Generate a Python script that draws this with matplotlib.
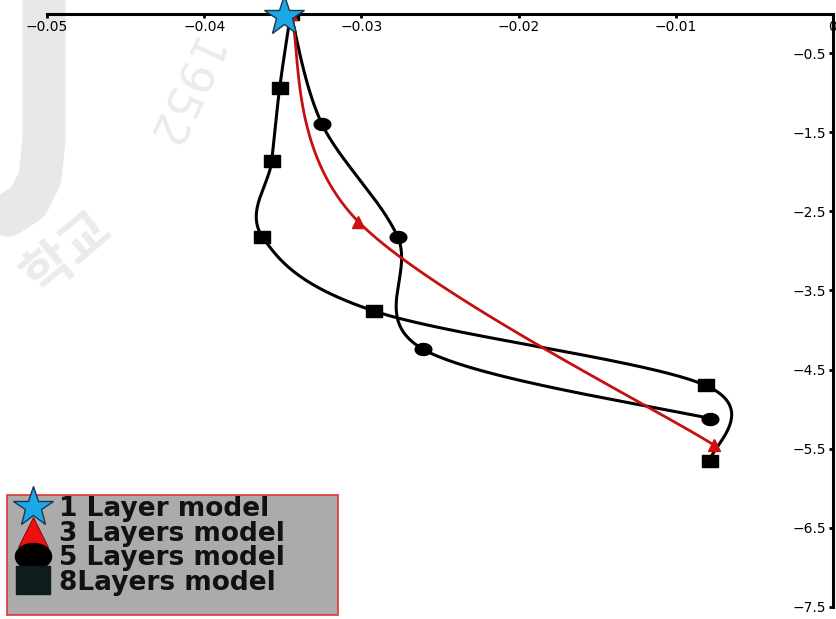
import numpy as np
import matplotlib
matplotlib.use('Agg')
import matplotlib.pyplot as plt
from matplotlib.lines import Line2D
from matplotlib.patches import Rectangle
from matplotlib.path import Path

# ---- data (x = displacement, y = depth) ----
x_1layer = [-0.0349]
y_1layer = [-0.03]

x_3layer = [-0.0345, -0.0302, -0.0076]
y_3layer = [0.0, -2.63, -5.45]

x_5layer = [-0.0345, -0.0325, -0.0277, -0.0261, -0.0078]
y_5layer = [0.0, -1.40, -2.82, -4.24, -5.12]

x_8layer = [-0.0345, -0.0352, -0.0357, -0.0363, -0.0292, -0.0081, -0.0078]
y_8layer = [0.0, -0.94, -1.86, -2.82, -3.76, -4.70, -5.65]

labels = ['1 Layer model', '3 Layers model', '5 Layers model', '8Layers model']
xticks = [-0.05, -0.04, -0.03, -0.02, -0.01, 0.0]
xtick_labels = ['\u22120.05', '\u22120.04', '\u22120.03', '\u22120.02', '\u22120.01', '0']
yticks = [-0.5, -1.5, -2.5, -3.5, -4.5, -5.5, -6.5, -7.5]
ytick_labels = ['\u2212' + str(abs(v)) for v in yticks]


def smooth(xs, ys, n=50):
    # spreadsheet-style smoothed line: cubic bezier through the points,
    # handles at +-1/6 of the neighbour chord
    P = np.column_stack([xs, ys]).astype(float)
    m = len(P)
    T = np.array([P[min(i + 1, m - 1)] - P[max(i - 1, 0)] for i in range(m)])
    s = np.linspace(0, 1, n)[:, None]
    pts = []
    for i in range(m - 1):
        p0, p3 = P[i], P[i + 1]
        p1 = p0 + T[i] / 6
        p2 = p3 - T[i + 1] / 6
        seg = (1 - s) ** 3 * p0 + 3 * (1 - s) ** 2 * s * p1 + 3 * (1 - s) * s ** 2 * p2 + s ** 3 * p3
        pts.append(seg if i == 0 else seg[1:])
    pts = np.vstack(pts)
    return pts[:, 0], pts[:, 1]


# horizontal ellipse / wide square markers (the original looks stretched)
t = np.linspace(0, 2 * np.pi, 60)
ellipse = Path(np.column_stack([np.cos(t), 0.72 * np.sin(t)]), closed=True)
wide_sq = Path([(-1, -0.82), (1, -0.82), (1, 0.82), (-1, 0.82), (-1, -0.82)], closed=True)

fig = plt.figure(figsize=(8.37, 6.19), dpi=100)
ax = fig.add_axes([47 / 837, 1 - 607 / 619, 786 / 837, 593.5 / 619])
ax.set_facecolor('none')

# faint watermark from the scanned page
wm = dict(transform=fig.transFigure, color='#ebebeb', zorder=-5, ha='center', va='center')
fig.add_artist(Line2D([44 / 837, 44 / 837, 40 / 837, 28 / 837, 8 / 837],
                      [1.0, 1 - 140 / 619, 1 - 178 / 619, 1 - 202 / 619, 1 - 215 / 619],
                      transform=fig.transFigure, color='#e8e8e8', lw=31,
                      solid_capstyle='round', solid_joinstyle='round', zorder=-6))
fig.text(178 / 837, 1 - 92 / 619, '1952', fontsize=33, rotation=-115,
         family='DejaVu Sans', **wm)
fig.text(68 / 837, 1 - 253 / 619, '학교', fontsize=38, rotation=40,
         family=['Noto Sans CJK KR', 'DejaVu Sans'], weight='bold', **wm)

xs, ys = smooth(x_8layer, y_8layer)
ax.plot(xs, ys, color='black', lw=2.2, zorder=3)
ax.plot(x_8layer, y_8layer, linestyle='none', marker=wide_sq, markersize=11,
        color='black', zorder=4)

xs, ys = smooth(x_5layer, y_5layer)
ax.plot(xs, ys, color='black', lw=2.2, zorder=3)
ax.plot(x_5layer, y_5layer, linestyle='none', marker=ellipse, markersize=12,
        color='black', zorder=4)

xs, ys = smooth(x_3layer, y_3layer)
ax.plot(xs, ys, color='#c41010', lw=2.0, zorder=3)
ax.plot(x_3layer, y_3layer, linestyle='none', marker='^', markersize=8,
        color='#d01010', zorder=4)

ax.plot(x_1layer, y_1layer, linestyle='none', marker='*', markersize=30,
        markerfacecolor='#1aa9e6', markeredgecolor='#1c3550', markeredgewidth=1,
        zorder=6, clip_on=False)

ax.set_xlim(-0.05, 0)
ax.set_ylim(-7.5, 0)

# axis lines on top and right, labels inside
ax.spines['right'].set_visible(False)
ax.spines['top'].set_visible(False)
ax.spines['bottom'].set_position(('axes', 1.0))
ax.spines['left'].set_position(('axes', 1.0))
for s in ('bottom', 'left'):
    ax.spines[s].set_linewidth(2.2)
    ax.spines[s].set_zorder(2)

ax.set_xticks(xticks)
ax.set_xticklabels(xtick_labels)
ax.set_yticks(yticks)
ax.set_yticklabels(ytick_labels)
ax.tick_params(axis='both', direction='out', length=3, width=2, labelsize=10, pad=2)
for lbl in ax.get_xticklabels() + ax.get_yticklabels():
    lbl.set_clip_on(False)

# legend box
fig.add_artist(Rectangle((7 / 837, 4 / 619), 331 / 837, 120 / 619, transform=fig.transFigure,
                         facecolor='#ababab', edgecolor='#e03535', lw=1.2, zorder=7))
handles = [
    Line2D([], [], linestyle='none', marker='*', markersize=30, markerfacecolor='#1aa9e6',
           markeredgecolor='#1c3550', markeredgewidth=1),
    Line2D([], [], linestyle='none', marker='^', markersize=22, markerfacecolor='#ee1010',
           markeredgecolor='#700000', markeredgewidth=0.6),
    Line2D([], [], linestyle='none', marker=ellipse, markersize=26, color='black'),
    Line2D([], [], linestyle='none', marker=wide_sq, markersize=24, color='#0f1c1c'),
]
leg = fig.legend(handles, labels, loc='upper left', bbox_to_anchor=(9 / 837, 1 - 495 / 619),
                 bbox_transform=fig.transFigure, frameon=False, borderaxespad=0,
                 borderpad=0.05, labelspacing=-0.06, handlelength=1.7, handletextpad=0.15,
                 prop={'family': 'DejaVu Sans', 'weight': 'bold', 'size': 19})
leg.set_zorder(8)
for txt in leg.get_texts():
    txt.set_color('#111111')

fig.savefig('out.png', dpi=100)
